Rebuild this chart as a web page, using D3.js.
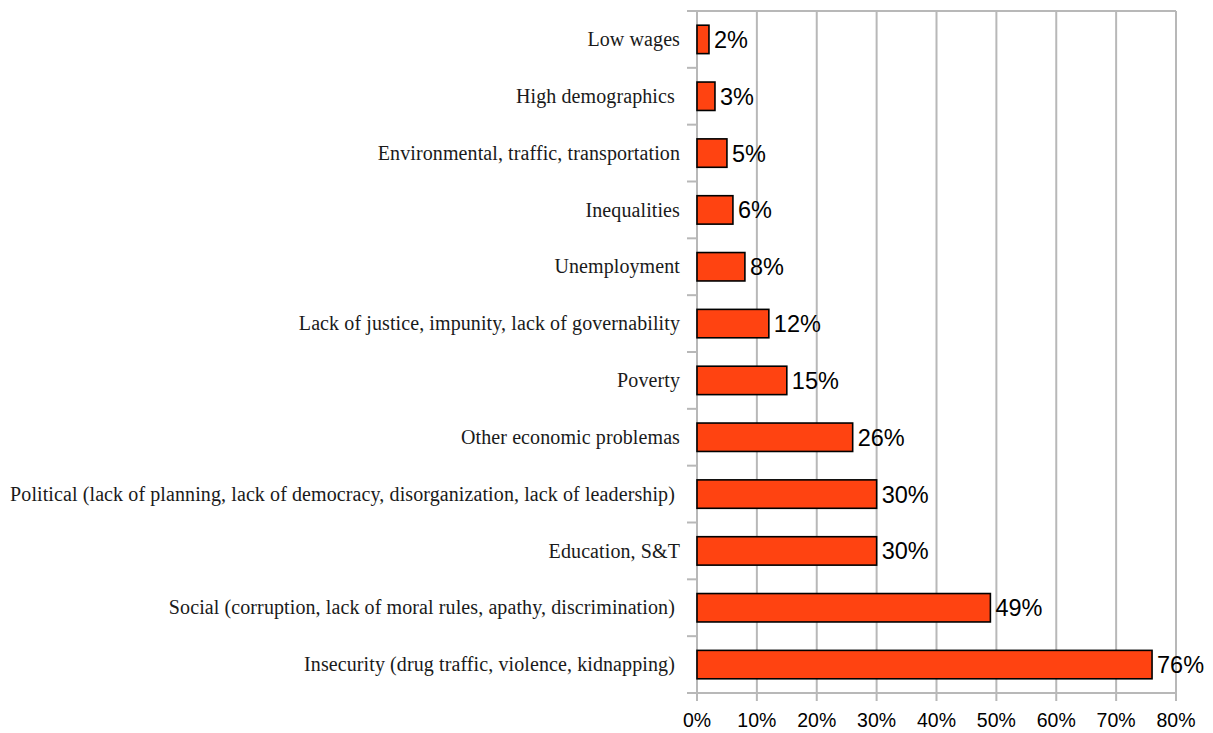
<!DOCTYPE html>
<html><head><meta charset="utf-8">
<script src="https://cdn.jsdelivr.net/npm/d3@7"></script>
<style>body{margin:0;background:#fff}</style>
</head><body>
<svg id="c" width="1213" height="733"></svg>
<script>
const categories = [
  "Low wages",
  "High demographics ",
  "Environmental, traffic, transportation",
  "Inequalities",
  "Unemployment",
  "Lack of justice, impunity, lack of governability",
  "Poverty",
  "Other economic problemas",
  "Political (lack of planning, lack of democracy, disorganization, lack of leadership) ",
  "Education, S&T",
  "Social (corruption, lack of moral rules, apathy, discrimination) ",
  "Insecurity (drug traffic, violence, kidnapping) "
];
const values = [2, 3, 5, 6, 8, 12, 15, 26, 30, 30, 49, 76];
const valueLabels = ["2%","3%","5%","6%","8%","12%","15%","26%","30%","30%","49%","76%"];
const xTicks = [0,10,20,30,40,50,60,70,80];

const svg = d3.select("#c");
const m = {l: 697, r: 1176, t: 11, b: 693};
const x = d3.scaleLinear().domain([0, 80]).range([m.l, m.r]);
const y = d3.scaleBand().domain(categories).range([m.t, m.b]).paddingInner(0.5).paddingOuter(0.25);
const yb = d3.scaleBand().domain(categories).range([m.t, m.b]);

const grid = "#b8b8b8";
svg.append("g").selectAll("line").data(xTicks).join("line")
  .attr("x1", d => x(d)).attr("x2", d => x(d))
  .attr("y1", m.t).attr("y2", m.b + 8)
  .attr("stroke", grid).attr("stroke-width", 2);
svg.append("line").attr("x1", m.l).attr("x2", m.r).attr("y1", m.t).attr("y2", m.t)
  .attr("stroke", grid).attr("stroke-width", 2);
svg.append("line").attr("x1", m.l - 10).attr("x2", m.r).attr("y1", m.b).attr("y2", m.b)
  .attr("stroke", grid).attr("stroke-width", 2);
svg.append("g").selectAll("line").data(categories).join("line")
  .attr("x1", m.l - 10).attr("x2", m.l)
  .attr("y1", d => yb(d)).attr("y2", d => yb(d))
  .attr("stroke", grid).attr("stroke-width", 2);

svg.append("g").selectAll("text").data(xTicks).join("text")
  .attr("x", d => x(d)).attr("y", 727)
  .attr("text-anchor", "middle")
  .attr("font-family", "Liberation Sans, Arial, sans-serif").attr("font-size", 19.5)
  .attr("fill", "#000").text(d => d + "%");

svg.append("g").selectAll("rect").data(values).join("rect")
  .attr("x", x(0)).attr("y", (d, i) => y(categories[i]))
  .attr("width", d => x(d) - x(0)).attr("height", y.bandwidth())
  .attr("fill", "#ff4311").attr("stroke", "#000").attr("stroke-width", 1.6);

svg.append("g").selectAll("text").data(values).join("text")
  .attr("x", d => x(d) + 5).attr("y", (d, i) => y(categories[i]) + y.bandwidth() / 2)
  .attr("dy", "0.36em")
  .attr("font-family", "Liberation Sans, Arial, sans-serif").attr("font-size", 23.5)
  .attr("fill", "#000").text((d, i) => valueLabels[i]);

svg.append("g").selectAll("text").data(categories).join("text")
  .attr("x", 680).attr("y", d => yb(d) + yb.bandwidth() / 2)
  .attr("dy", "0.33em").attr("text-anchor", "end")
  .attr("xml:space", "preserve")
  .attr("letter-spacing", 0.1)
  .attr("font-family", "Liberation Serif, Times New Roman, serif").attr("font-size", 20)
  .attr("fill", "#1a1a1a").text(d => d);
</script>
</body></html>
